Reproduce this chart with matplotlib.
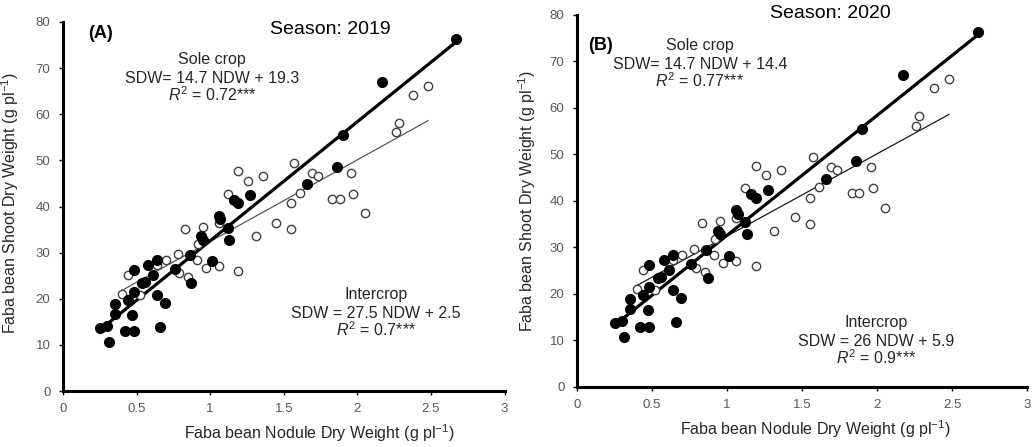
import numpy as np
import matplotlib
matplotlib.use("Agg")
import matplotlib.pyplot as plt

# ---------------- DATA ----------------
# intercrop (filled circles): nodule dry weight vs shoot dry weight
inter_ndw = [0.25, 0.30, 0.31, 0.42, 0.48, 0.66, 0.35, 0.35, 0.47, 0.44,
             0.48, 0.48, 0.54, 0.56, 0.58, 0.61, 0.64, 0.64, 0.69, 0.76,
             0.86, 0.87, 1.01, 0.94, 0.95, 1.06, 1.07, 1.12, 1.13, 1.16,
             1.19, 1.27, 1.66, 1.86, 1.90, 2.17, 2.67]
inter_sdw = [13.7, 14.1, 10.7, 12.9, 12.9, 13.9, 16.7, 18.8, 16.5, 19.7,
             21.5, 26.2, 23.4, 23.7, 27.3, 25.2, 28.4, 20.8, 19.0, 26.4,
             29.5, 23.4, 28.2, 33.6, 32.8, 38.0, 37.2, 35.4, 32.8, 41.4,
             40.7, 42.4, 44.8, 48.5, 55.5, 67.1, 76.3]

# sole crop (open circles)
sole_ndw = [0.40, 0.44, 0.52, 0.64, 0.70, 0.78, 0.79, 0.83, 0.85, 0.91,
            0.92, 0.95, 0.97, 1.06, 1.06, 1.19, 1.31, 1.12, 1.19, 1.26,
            1.36, 1.45, 1.55, 1.55, 1.57, 1.61, 1.69, 1.73, 1.83, 1.88,
            1.96, 1.97, 2.05, 2.26, 2.28, 2.38, 2.48]
sole_sdw = [21.0, 25.2, 20.8, 27.3, 28.4, 29.6, 25.5, 35.2, 24.7, 28.3,
            31.8, 35.6, 26.6, 27.1, 36.4, 26.0, 33.5, 42.7, 47.6, 45.6,
            46.6, 36.5, 35.1, 40.7, 49.4, 43.0, 47.2, 46.7, 41.6, 41.6,
            47.2, 42.7, 38.5, 56.1, 58.2, 64.2, 66.2]

panels = ["(A)", "(B)"]
seasons = ["Season: 2019", "Season: 2020"]
sole_eq = ["SDW= 14.7 NDW + 19.3", "SDW= 14.7 NDW + 14.4"]
sole_r2 = ["0.72***", "0.77***"]
inter_eq = ["SDW = 27.5 NDW + 2.5", "SDW = 26 NDW + 5.9"]
inter_r2 = ["0.7***", "0.9***"]

x_ticks = [0, 0.5, 1, 1.5, 2, 2.5, 3]
x_labels = ["0", "0.5", "1", "1.5", "2", "2.5", "3"]
y_ticks = list(range(0, 90, 10))
# --------------------------------------

W, H = 1034, 447
plt.rcParams["font.family"] = ["Liberation Sans", "DejaVu Sans"]
plt.rcParams["mathtext.fontset"] = "custom"
plt.rcParams["mathtext.rm"] = "Liberation Sans"
plt.rcParams["mathtext.it"] = "Liberation Sans:italic"

fig = plt.figure(figsize=(W / 100, H / 100), dpi=100)


def px(x, y):
    return x / W, 1 - y / H


# axes boxes in pixels: left, top, right, bottom
boxes = [(63, 22, 504.5, 391), (577, 15, 1027, 386.7)]
text_pos = {
    "tag": [(88, 33), (588, 45)],
    "season": [(330, 29), (830, 14)],
    "sole": [(212, 64), (700, 50)],
    "inter": [(376, 299), (876, 327)],
}
ylab_pos = [(-0.095, 0.51), (-0.087, 0.50)]
xlab_pos = [0.58, 0.53]
thin_col = ["#595959", "#1a1a1a"]
TXT = "#262626"
GRAY = "#595959"

for i in range(2):
    l, t, r, b = boxes[i]
    ax = fig.add_axes([l / W, 1 - b / H, (r - l) / W, (b - t) / H])

    # regression lines (fitted over each series' x range)
    xs = np.array(sole_ndw)
    k, c = np.polyfit(xs, sole_sdw, 1)
    xx = np.array([xs.min(), xs.max()])
    ax.plot(xx, k * xx + c, color=thin_col[i], lw=0.9, zorder=2)

    xi = np.array(inter_ndw)
    k2, c2 = np.polyfit(xi, inter_sdw, 1)
    xx2 = np.array([xi.min(), xi.max()])
    ax.plot(xx2, k2 * xx2 + c2, color="black", lw=2.3, zorder=3)

    ax.plot(sole_ndw, sole_sdw, "o", ms=6.0, mfc="white", mec="#404040",
            mew=1.0, zorder=4)
    ax.plot(inter_ndw, inter_sdw, "o", ms=7.0, mfc="black", mec="black",
            zorder=5)

    ax.set_xlim(0, 3)
    ax.set_ylim(0, 80)
    ax.set_xticks(x_ticks)
    ax.set_xticklabels(x_labels)
    ax.set_yticks(y_ticks)
    for s in ["top", "right"]:
        ax.spines[s].set_visible(False)
    for s in ["left", "bottom"]:
        ax.spines[s].set_linewidth(2.2)
    ax.tick_params(length=3, width=1, colors="black", labelcolor=GRAY,
                   labelsize=9.5, pad=6)

    ax.set_xlabel("Faba bean Nodule Dry Weight (g pl$^{-1}$)", fontsize=11.5,
                  color=TXT)
    ax.xaxis.set_label_coords(xlab_pos[i], -0.085)
    ax.set_ylabel("Faba bean Shoot Dry Weight (g pl$^{-1}$)", fontsize=11.5,
                  color=TXT)
    ax.yaxis.set_label_coords(*ylab_pos[i])

    # annotations
    x0, y0 = text_pos["tag"][i]
    fig.text(*px(x0, y0), panels[i], fontsize=13, fontweight="bold",
             ha="left", va="center", color="black")
    x0, y0 = text_pos["season"][i]
    fig.text(*px(x0, y0), seasons[i], fontsize=14, ha="center",
             va="center", color="black")

    x0, y0 = text_pos["sole"][i]
    lines = ["Sole crop", sole_eq[i], "$R^2$ = " + sole_r2[i]]
    for j, s in enumerate(lines):
        fig.text(*px(x0, y0 + 18.7 * j), s, fontsize=11.5, ha="center",
                 va="baseline", color=TXT)

    x0, y0 = text_pos["inter"][i]
    lines = ["Intercrop", inter_eq[i], "$R^2$ = " + inter_r2[i]]
    for j, s in enumerate(lines):
        fig.text(*px(x0, y0 + 18.7 * j), s, fontsize=11.5, ha="center",
                 va="baseline", color=TXT)

fig.savefig("out.png", dpi=100)
